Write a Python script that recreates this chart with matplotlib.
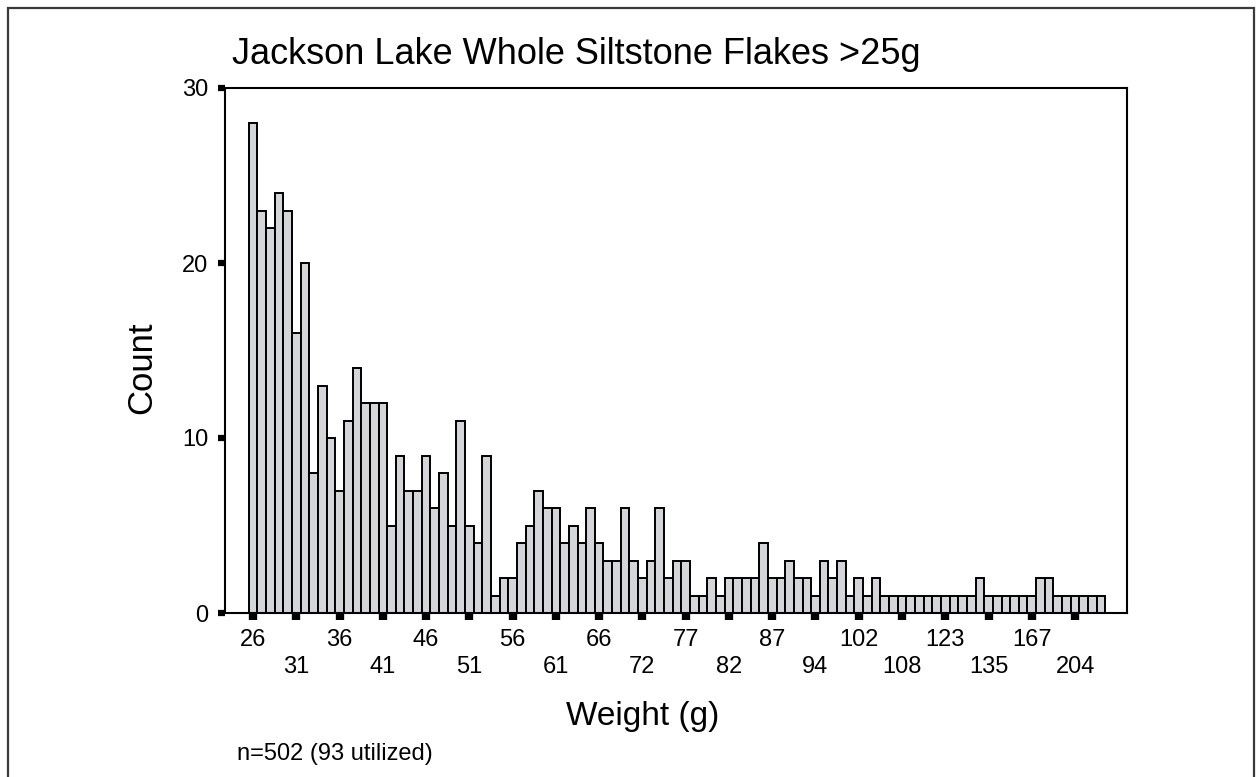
import matplotlib
matplotlib.use("Agg")
import matplotlib.pyplot as plt
from matplotlib.patches import Rectangle

plt.rcParams['font.family'] = ['Liberation Sans', 'DejaVu Sans']

# Counts per weight class, in order of increasing weight
counts = [28, 23, 22, 24, 23, 16, 20, 8, 13, 10,
          7, 11, 14, 12, 12, 12, 5, 9, 7, 7,
          9, 6, 8, 5, 11, 5, 4, 9, 1, 2,
          2, 4, 5, 7, 6, 6, 4, 5, 4, 6,
          4, 3, 3, 6, 3, 2, 3, 6, 2, 3,
          3, 1, 1, 2, 1, 2, 2, 2, 2, 4,
          2, 2, 3, 2, 2, 1, 3, 2, 3, 1,
          2, 1, 2, 1, 1, 1, 1, 1, 1, 1,
          1, 1, 1, 1, 2, 1, 1, 1, 1, 1,
          1, 2, 2, 1, 1, 1, 1, 1, 1]

# Weight labels shown on every fifth class
tick_labels = ['26', '31', '36', '41', '46', '51', '56', '61', '66', '72',
               '77', '82', '87', '94', '102', '108', '123', '135', '167', '204']
tick_step = 5

y_ticks = [0, 10, 20, 30]

W, H = 1256, 777
fig = plt.figure(figsize=(W / 100, H / 100), dpi=100)
ax = fig.add_axes([225 / W, 1 - 613 / H, (1127 - 225) / W, (613 - 88) / H])

xs = list(range(len(counts)))
ax.bar(xs, counts, width=1.0, color='#d3d5d8', edgecolor='black', linewidth=1.4, zorder=2)

ax.set_xlim(-3.24, 101.0)
ax.set_ylim(0, 30)

tick_pos = [i * tick_step for i in range(len(tick_labels))]
shown = [lab if k % 2 == 0 else '\n' + lab for k, lab in enumerate(tick_labels)]
ax.set_xticks(tick_pos)
ax.set_xticklabels(shown, fontsize=17, linespacing=1.27)
ax.set_yticks(y_ticks)
ax.set_yticklabels([str(v) for v in y_ticks], fontsize=17)

ax.tick_params(axis='x', direction='out', length=5, width=6, pad=6.5, colors='black')
ax.tick_params(axis='y', direction='out', length=5, width=4.5, pad=7, colors='black')

for s in ax.spines.values():
    s.set_linewidth(1.5)
    s.set_color('black')

fig.text(232 / W, 1 - 64 / H, 'Jackson Lake Whole Siltstone Flakes >25g',
         fontsize=26, ha='left', va='baseline')
fig.text(643 / W, 1 - 725 / H, 'Weight (g)', fontsize=24, ha='center', va='baseline')
fig.text(142 / W, 1 - 368 / H, 'Count', fontsize=25, rotation=90,
         ha='center', va='center')
fig.text(237 / W, 1 - 760 / H, 'n=502 (93 utilized)', fontsize=17,
         ha='left', va='baseline')

# Thin outer frame around the figure
fig.patches.append(Rectangle((8 / W, -0.05), (1254 - 8) / W, 1.05 - 8 / H,
                             transform=fig.transFigure, fill=False,
                             edgecolor='#3a3a3a', linewidth=1.6))

fig.savefig('out.png', dpi=100)
